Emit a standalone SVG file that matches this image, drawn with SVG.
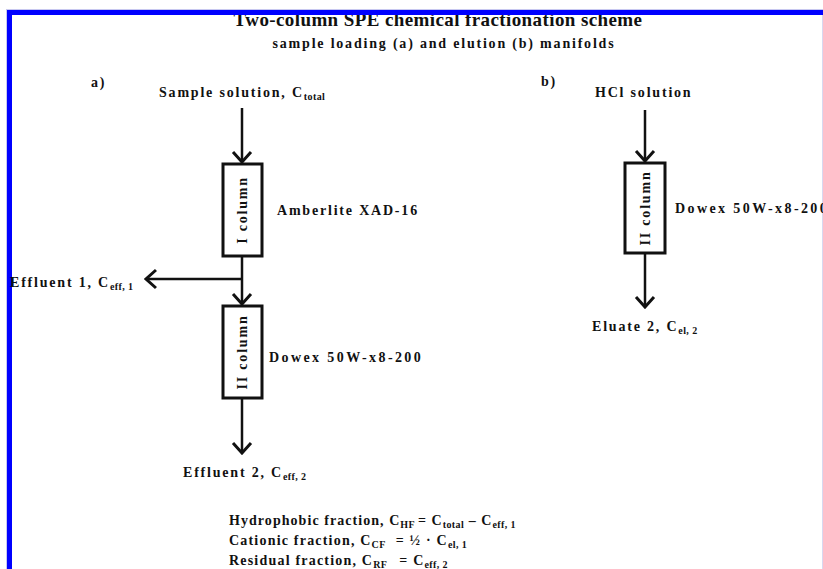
<svg xmlns="http://www.w3.org/2000/svg" width="823" height="569" viewBox="0 0 823 569">
<style>
.t{font-family:"Liberation Serif","Times New Roman",serif;font-weight:bold;font-size:14px;letter-spacing:1.8px;fill:#111}
.title{font-size:19px;letter-spacing:0.4px}
.f{letter-spacing:1.2px}
.dw{letter-spacing:2.4px}
.sub{font-size:10px;letter-spacing:0.4px}
.box{fill:#fff;stroke:#111;stroke-width:3}
.ln{fill:none;stroke:#111;stroke-width:2.5}
</style>
<defs>
<marker id="chev" viewBox="-13 -12 15 24" refX="0" refY="0" markerWidth="15" markerHeight="24" markerUnits="userSpaceOnUse" orient="auto">
<path d="M-10,-9 L0,0 L-10,9" fill="none" stroke="#111" stroke-width="3"/>
</marker>
</defs>
<rect width="823" height="569" fill="#fff"/>
<g id="title">
<text class="t title" x="438" y="26" text-anchor="middle">Two-column SPE chemical fractionation scheme</text>
<text class="t" x="444" y="48" text-anchor="middle">sample loading (a) and elution (b) manifolds</text>
</g>
<g id="frame">
<line x1="6.5" y1="9" x2="6.5" y2="569" stroke="#c8c8f0" stroke-width="1"/>
<line x1="6" y1="9.5" x2="823" y2="9.5" stroke="#c8c8f0" stroke-width="1"/>
<line x1="822.5" y1="10" x2="822.5" y2="569" stroke="#d8d8f0" stroke-width="1"/>
<rect x="7" y="10" width="816" height="5" fill="#0000ff"/>
<rect x="7" y="10" width="5" height="559" fill="#0000ff"/>
</g>
<g id="connectors">
<line class="ln" x1="242" y1="108" x2="242" y2="162" marker-end="url(#chev)"/>
<line class="ln" x1="242" y1="256" x2="242" y2="304" marker-end="url(#chev)"/>
<line class="ln" x1="243" y1="279" x2="146" y2="279" marker-end="url(#chev)"/>
<line class="ln" x1="242" y1="398" x2="242" y2="453" marker-end="url(#chev)"/>
<line class="ln" x1="645" y1="110" x2="645" y2="161" marker-end="url(#chev)"/>
<line class="ln" x1="645" y1="253" x2="645" y2="307" marker-end="url(#chev)"/>
</g>
<g id="label-a"><text class="t" x="91" y="87">a)</text></g>
<g id="label-b"><text class="t" x="541" y="86">b)</text></g>
<g id="sample"><text class="t" x="159" y="97">Sample solution, C<tspan class="sub" dy="3">total</tspan></text></g>
<g id="col1">
<rect class="box" x="223" y="164" width="39" height="92"/>
<text class="t" transform="translate(247,210) rotate(-90)" text-anchor="middle">I column</text>
<text class="t" x="277" y="215">Amberlite XAD-16</text>
</g>
<g id="effluent1"><text class="t" x="10" y="287">Effluent 1, C<tspan class="sub" dy="3">eff, 1</tspan></text></g>
<g id="col2">
<rect class="box" x="223" y="306" width="39" height="92"/>
<text class="t" transform="translate(247,352) rotate(-90)" text-anchor="middle">II column</text>
<text class="t dw" x="269" y="362">Dowex 50W-x8-200</text>
</g>
<g id="effluent2"><text class="t" x="183" y="477">Effluent 2, C<tspan class="sub" dy="3">eff, 2</tspan></text></g>
<g id="hcl"><text class="t" x="595" y="97">HCl solution</text></g>
<g id="col2b">
<rect class="box" x="625" y="163" width="40" height="90"/>
<text class="t" transform="translate(650,208) rotate(-90)" text-anchor="middle">II column</text>
<text class="t dw" x="675" y="213">Dowex 50W-x8-200</text>
</g>
<g id="eluate2"><text class="t" x="592" y="331">Eluate 2, C<tspan class="sub" dy="3">el, 2</tspan></text></g>
<g id="formulas">
<text class="t f" x="229" y="525" style="letter-spacing:1.05px">Hydrophobic fraction, C<tspan class="sub" dy="3">HF</tspan><tspan dy="-3" dx="3">= C</tspan><tspan class="sub" dy="3">total</tspan><tspan dy="-3"> – C</tspan><tspan class="sub" dy="3">eff, 1</tspan></text>
<text class="t f" x="229" y="545">Cationic fraction, C<tspan class="sub" dy="3">CF</tspan><tspan dy="-3" dx="10">=  ½ ·  C</tspan><tspan class="sub" dy="3">el, 1</tspan></text>
<text class="t f" x="229" y="565">Residual fraction, C<tspan class="sub" dy="3">RF</tspan><tspan dy="-3" dx="12">=   C</tspan><tspan class="sub" dy="3">eff, 2</tspan></text>
</g>
</svg>
